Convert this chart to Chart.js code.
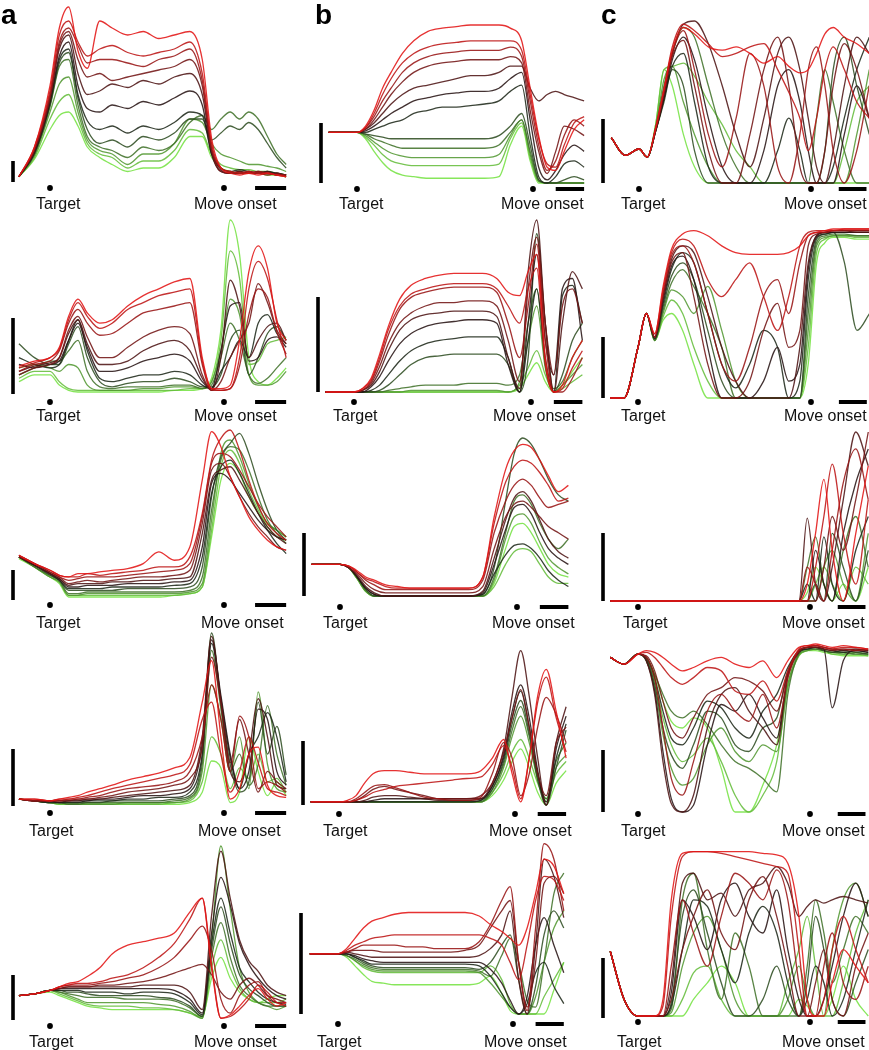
<!DOCTYPE html>
<html><head><meta charset="utf-8">
<script src="https://cdn.jsdelivr.net/npm/chart.js@4"></script>
<style>
html,body{margin:0;padding:0;background:#fff;}
#wrap{position:relative;width:869px;height:1050px;overflow:hidden;font-family:"Liberation Sans",Arial,sans-serif;}
#wrap canvas{position:absolute;}
.lab{position:absolute;font-size:16px;line-height:16px;color:#111;white-space:nowrap;}
.letter{position:absolute;font-size:28px;line-height:28px;font-weight:bold;color:#000;}
</style></head>
<body><div id="wrap"></div>
<script>
// ---- time grids (ms, target = 0) ----
const timesA = [-200,-100,0,60,120,180,240,320,400,500,600,700,800,900,980,1040,1100,1160,1220,1280,1340,1400,1460,1520];
const timesB = [-200,-100,0,60,120,180,240,320,400,500,600,700,800,900,1000,1080,1160,1220,1280,1340,1400,1460,1530,1600];
const timesC = [-200,-100,0,60,120,180,240,320,400,500,600,700,800,900,1000,1080,1160,1220,1280,1340,1400,1480,1570,1660];
const tickLabels = ["Target","Move onset"];
const panelLetters = ["a","b","c"];

// ---- series (12 conditions each, green -> black -> red), values in % of panel range ----
const a1 = [
[3,13,30,38,40,32,20,14,10,6,8,8,14,26,26,14,8,6,5,5,5,4,4,3],
[3,14,36,46,50,36,22,16,14,8,12,12,18,30,28,16,10,8,7,7,6,6,5,4],
[3,15,40,56,60,40,24,18,16,10,16,16,22,36,34,22,16,14,12,10,10,9,8,6],
[3,16,43,66,70,44,26,20,18,14,20,18,22,34,38,30,36,40,36,40,36,26,16,10],
[3,16,44,68,74,48,30,22,24,20,26,24,28,36,36,24,28,32,30,34,30,22,14,8],
[3,17,45,70,76,50,35,30,32,28,32,30,34,40,38,16,8,6,7,6,5,6,5,4],
[3,17,46,72,80,55,42,40,44,42,46,44,48,52,44,16,6,5,6,5,6,5,5,4],
[3,18,48,76,84,62,50,52,56,54,58,56,60,62,50,18,7,5,5,6,5,6,4,4],
[3,18,48,78,86,70,60,62,58,60,62,64,66,70,55,18,6,5,6,5,5,4,5,3],
[3,19,50,80,88,78,68,70,70,68,66,70,72,76,58,20,8,6,5,5,6,5,4,4],
[3,20,52,84,92,80,72,76,78,74,72,74,76,80,62,22,8,6,5,6,5,5,4,3],
[3,20,55,88,100,75,65,92,88,84,86,82,84,86,70,25,8,5,4,5,4,5,4,3]];
const a2 = [
[6,10,10,4,1,0,0,0,0,0,0,0,1,1,2,8,36,100,80,20,6,4,8,14],
[8,12,12,6,2,1,1,1,1,1,1,1,1,2,2,6,30,82,66,16,18,28,30,32],
[14,16,14,12,16,14,4,1,1,1,2,2,3,3,2,6,24,54,45,10,4,4,6,12],
[10,14,18,18,24,30,12,3,2,3,3,3,4,4,2,4,20,40,30,10,5,8,14,20],
[28,20,16,16,28,38,20,6,3,5,6,6,8,6,3,3,10,30,36,10,20,34,38,30],
[20,16,14,16,30,42,24,8,6,8,10,10,12,10,4,2,12,20,30,20,40,45,34,28],
[16,14,16,18,30,40,26,12,12,14,18,20,22,18,6,2,24,50,52,18,20,30,32,26],
[12,15,17,20,34,42,28,16,16,18,24,28,30,24,8,1,20,65,50,20,30,38,40,30],
[10,14,16,20,36,44,32,20,20,26,32,36,38,34,10,1,6,20,30,40,63,52,36,28],
[12,16,18,24,40,48,40,33,34,40,46,48,50,52,16,1,1,2,15,45,60,55,35,22],
[14,17,20,25,42,52,44,37,40,48,52,56,58,60,18,2,1,2,20,60,76,66,42,20],
[15,18,20,26,44,54,46,40,42,50,56,60,64,66,20,2,2,4,30,70,85,72,40,30]];
const a3 = [
[23,18,12,8,0,0,0,0,0,0,0,0,1,2,6,36,70,80,74,60,50,44,40,36],
[24,18,12,9,1,1,1,1,1,1,1,1,1,2,6,40,78,88,80,64,52,42,36,34],
[24,18,12,9,1,1,2,2,2,2,2,2,2,3,8,46,86,94,84,68,54,44,40,36],
[24,18,13,10,2,2,3,3,3,3,3,3,3,4,12,52,82,90,88,76,60,46,38,32],
[24,19,13,10,4,4,4,4,4,5,5,5,5,6,18,60,84,92,98,86,68,52,40,34],
[24,19,14,10,5,5,5,5,6,6,6,6,7,8,24,62,78,82,74,62,50,40,32,26],
[24,19,14,11,6,6,7,7,7,8,8,8,9,10,30,68,74,70,62,54,46,40,36,34],
[24,19,14,11,7,8,8,8,9,9,10,10,11,12,38,70,76,78,70,60,50,42,36,32],
[24,20,15,12,8,9,10,9,10,11,12,12,13,16,44,76,80,72,60,50,42,36,30,28],
[25,20,15,12,10,11,12,12,12,13,14,15,16,20,48,80,86,84,76,66,56,48,42,36],
[25,20,16,13,12,12,14,13,14,15,16,18,18,24,50,82,95,100,88,70,55,44,38,34],
[25,20,16,13,12,14,14,15,16,17,20,27,22,30,70,99,90,72,60,48,40,34,30,28]];
const a4 = [
[4,3,2,1,1,1,1,1,1,1,1,1,1,2,8,26,22,2,8,40,20,6,14,6],
[4,3,2,1,1,1,1,1,1,1,1,1,2,3,14,40,30,10,22,16,30,14,16,8],
[4,3,2,2,1,1,1,1,1,2,2,2,2,4,20,70,50,20,40,10,66,24,10,8],
[4,3,2,2,1,1,2,2,2,2,2,2,3,5,24,90,56,20,30,12,24,58,30,12],
[4,3,2,2,2,2,2,2,3,3,3,3,4,6,28,100,60,24,8,14,60,30,46,18],
[4,3,2,2,2,2,3,3,3,4,4,5,5,8,30,94,62,28,10,30,40,54,40,14],
[4,3,3,2,3,3,3,4,4,5,6,6,7,10,36,96,64,30,10,20,56,50,20,12],
[4,3,3,3,3,3,4,4,5,6,7,8,9,12,40,98,60,20,14,30,62,40,12,10],
[4,3,3,3,3,4,4,5,6,8,9,10,12,16,34,86,60,25,50,30,8,20,14,10],
[4,3,3,3,4,4,5,6,8,10,11,12,14,20,40,70,50,20,52,40,10,14,12,8],
[4,4,3,4,4,5,6,8,10,12,14,16,18,24,50,60,30,8,20,40,25,10,8,6],
[4,4,3,4,5,6,8,10,12,15,17,19,22,28,60,84,40,4,10,30,34,12,6,5]];
const a5 = [
[14,15,16,14,12,10,8,7,6,6,6,6,6,4,2,24,36,24,16,12,10,12,14,14],
[14,15,17,15,13,11,9,8,8,8,7,7,6,4,1,30,46,30,18,12,10,10,10,12],
[14,15,17,16,14,12,10,10,10,10,10,9,8,5,1,46,100,64,30,16,10,8,6,8],
[14,15,17,16,15,14,13,13,13,12,12,12,11,7,2,36,56,36,20,14,10,8,8,8],
[14,15,17,17,16,16,15,14,14,14,14,13,12,8,2,40,65,44,26,18,14,10,8,8],
[14,15,17,17,17,17,16,16,16,15,16,16,15,10,3,44,70,50,30,22,16,12,10,9],
[14,15,17,18,18,18,18,18,18,18,18,18,17,12,4,50,82,66,44,32,24,18,14,12],
[14,15,17,18,19,19,19,19,19,19,20,20,20,16,6,60,97,70,46,34,28,20,16,14],
[14,15,17,18,19,19,19,20,20,21,22,24,27,30,32,26,16,12,20,24,20,14,12,10],
[14,15,17,19,20,20,20,21,22,24,26,30,36,46,54,40,12,4,14,20,22,14,10,10],
[14,15,17,19,20,21,21,22,24,26,30,36,44,58,70,32,1,2,6,12,20,16,10,8],
[14,15,17,19,21,22,25,30,38,43,45,47,50,62,70,30,1,3,8,14,18,12,8,10]];
const b1 = [
[32,32,32,28,20,13,8,5,4,3,3,3,3,3,4,24,36,14,0,0,0,0,0,0],
[32,32,32,29,24,18,14,12,11,11,11,11,11,11,12,28,38,16,1,0,0,0,0,0],
[32,32,32,30,26,22,19,17,16,16,16,16,16,16,18,30,40,18,1,0,0,0,0,0],
[32,32,32,31,28,26,24,22,22,22,22,22,22,22,24,32,40,20,2,0,0,0,0,0],
[32,32,32,31,30,29,28,28,28,28,28,28,28,28,30,36,44,24,2,0,0,2,4,2],
[32,32,32,32,34,36,38,40,44,46,48,48,49,50,52,58,62,30,4,0,4,12,14,10],
[32,32,32,33,36,40,44,48,52,54,56,57,58,58,60,66,70,40,10,2,8,18,24,20],
[32,32,32,34,38,44,50,56,60,62,64,66,68,68,70,74,74,60,52,56,58,56,54,52],
[32,32,32,34,40,48,56,64,70,74,76,77,78,78,78,80,76,46,20,6,20,36,34,30],
[32,32,32,35,42,52,60,70,76,80,82,83,84,84,84,86,80,52,24,8,14,30,40,36],
[32,32,32,35,44,56,66,76,82,86,88,89,90,90,90,90,84,56,28,12,10,24,38,42],
[32,32,32,36,46,60,70,82,90,96,98,99,100,100,100,98,90,60,30,10,8,20,34,40]];
const b2 = [
[0,0,0,0,0,0,0,0,0,0,0,0,0,0,0,0,2,10,17,6,0,4,12,20],
[0,0,0,0,0,0,0,0,0,0,0,0,0,0,0,0,4,14,24,10,0,2,6,10],
[0,0,0,0,0,0,0,0,1,1,1,1,1,1,1,0,6,30,50,14,0,4,10,16],
[0,0,0,0,0,0,1,2,3,4,4,4,5,5,5,4,10,40,60,16,2,6,20,30],
[0,0,0,0,0,1,4,10,16,20,21,22,22,22,22,16,0,20,92,40,0,10,30,40],
[0,0,0,0,1,4,10,18,24,28,30,31,32,32,32,20,0,30,60,20,0,56,62,40],
[0,0,0,0,3,9,18,28,34,38,40,41,42,42,40,16,0,40,80,30,10,60,66,30],
[0,0,0,1,4,12,24,36,42,45,46,47,47,47,44,20,2,70,100,40,0,40,70,60],
[0,0,0,1,5,15,28,40,46,50,52,52,53,53,50,30,6,60,90,40,10,50,60,40],
[0,0,0,1,6,18,33,48,55,58,60,61,61,61,58,40,20,50,86,30,0,0,8,20],
[0,0,0,2,7,20,36,50,57,60,62,63,63,63,60,50,40,60,72,16,0,2,14,24],
[0,0,0,2,8,22,38,54,62,66,68,69,69,69,66,58,56,70,80,20,0,4,20,30]];
const b3 = [
[20,20,20,18,11,3,0,0,0,0,0,0,0,0,0,8,30,44,46,40,30,20,14,12],
[20,20,20,18,11,3,0,0,0,0,0,0,0,0,0,6,20,28,30,28,20,12,8,8],
[20,20,20,18,11,3,0,0,0,0,0,0,0,0,0,10,36,50,52,46,34,24,18,14],
[20,20,20,18,12,4,0,0,0,0,0,0,0,0,0,12,40,60,64,58,46,36,30,36],
[20,20,20,18,12,4,0,0,0,0,0,0,0,0,1,18,60,90,100,96,86,74,64,60],
[20,20,20,18,12,5,1,0,0,0,0,0,0,0,1,14,26,32,33,30,24,16,10,6],
[20,20,20,18,12,5,1,0,0,0,0,0,0,0,2,20,42,56,58,52,40,30,24,20],
[20,20,20,18,13,6,2,0,0,0,0,0,0,0,3,24,48,62,66,60,48,36,28,24],
[20,20,20,18,14,8,4,2,2,2,2,2,2,2,6,30,50,58,60,56,50,44,40,36],
[20,20,20,19,15,10,7,4,4,4,4,4,4,4,10,40,60,70,74,70,62,56,58,60],
[20,20,20,19,15,11,9,6,5,5,5,5,5,5,12,46,72,82,86,84,78,70,60,62],
[20,20,20,19,16,12,10,7,6,5,5,5,5,5,12,50,80,92,96,94,86,76,66,70]];
const b4 = [
[2,2,2,2,2,2,2,2,2,2,2,2,2,2,2,6,16,28,36,24,8,0,14,22],
[2,2,2,2,2,2,2,2,2,2,2,2,2,2,2,8,20,34,42,30,14,4,20,28],
[2,2,2,2,2,2,2,2,2,2,2,2,2,2,2,8,24,44,57,40,16,2,24,32],
[2,2,2,2,2,2,2,2,2,2,2,2,2,2,2,10,26,48,63,44,18,4,28,40],
[2,2,2,2,2,2,2,2,2,2,2,2,2,2,3,10,28,52,67,46,16,0,24,48],
[2,2,2,2,2,2,2,2,2,2,2,2,2,2,3,12,30,56,73,50,20,2,30,52],
[2,2,2,2,2,2,3,4,4,4,4,4,4,4,4,12,32,60,77,56,22,0,36,57],
[2,2,2,2,2,3,5,6,6,5,4,3,3,3,4,14,36,70,99,70,30,0,40,63],
[2,2,2,2,3,6,10,12,10,8,6,4,4,4,6,14,34,56,74,50,20,6,40,50],
[2,2,2,2,4,8,12,13,11,8,5,4,3,3,5,20,40,30,6,20,50,69,58,40],
[2,2,2,2,3,5,8,10,12,13,14,15,16,17,18,26,38,24,4,30,66,82,56,34],
[2,2,2,3,6,14,20,22,22,21,20,20,20,20,22,30,42,20,2,30,70,87,60,30]];
const b5 = [
[35,35,35,33,28,23,19,18,17,17,17,17,17,17,18,22,12,2,0,0,0,0,14,30],
[35,35,35,34,31,27,25,24,24,24,24,24,24,24,24,28,20,6,0,0,0,10,20,30],
[35,35,35,34,31,28,26,25,25,25,25,25,25,25,24,18,10,4,0,0,10,30,50,60],
[35,35,35,34,32,29,27,26,26,26,26,26,26,26,25,22,34,44,30,8,4,30,70,82],
[35,35,35,35,33,30,28,27,27,27,27,27,27,27,26,30,40,46,20,0,16,46,60,50],
[35,35,35,35,33,31,29,29,29,29,29,29,29,29,28,22,12,4,0,6,24,30,16,6],
[35,35,35,35,34,32,31,30,30,30,30,30,30,30,30,26,18,8,0,10,40,56,40,24],
[35,35,35,36,35,34,33,33,33,33,33,33,33,33,34,38,46,60,20,0,40,90,80,56],
[35,35,35,36,37,37,37,36,36,36,36,36,36,37,40,50,60,66,30,4,30,76,80,70],
[35,35,35,36,38,40,40,40,40,39,39,38,38,38,42,52,66,74,30,2,50,99,90,60],
[35,35,35,37,40,42,44,45,46,46,46,46,46,46,46,44,40,30,20,40,66,80,78,66],
[35,35,35,38,44,50,54,56,58,59,59,59,59,59,57,52,48,44,40,50,70,90,86,70]];
const c1 = [
[28,17,21,16,36,70,60,30,10,0,0,0,0,0,0,0,0,0,0,0,0,0,0,0],
[28,17,21,16,36,70,72,74,66,50,36,20,10,0,0,0,0,0,0,0,0,20,50,60],
[28,17,21,16,34,64,72,50,30,10,0,0,0,0,0,0,0,0,0,0,0,0,30,70],
[28,17,21,16,34,60,80,96,90,60,30,10,0,0,0,0,0,0,40,70,50,20,0,0],
[28,17,21,16,32,50,70,60,20,0,0,0,0,0,0,0,0,0,0,20,70,90,60,30],
[28,17,21,16,32,52,72,80,50,10,0,0,0,0,20,40,20,0,0,0,10,40,70,90],
[28,17,21,16,32,52,76,90,76,40,10,0,0,20,60,70,50,20,0,0,0,30,60,40],
[28,17,21,16,32,54,80,98,100,86,60,30,10,40,80,90,70,40,10,0,20,60,90,80],
[28,17,21,16,33,55,78,88,60,20,0,0,30,70,90,60,10,0,0,20,60,86,70,40],
[28,17,21,16,33,56,80,94,70,30,10,40,80,60,10,0,30,70,84,60,20,0,20,60],
[28,17,21,16,34,58,84,98,94,86,78,80,84,86,70,56,40,20,40,70,84,70,50,40],
[28,17,21,16,34,58,82,96,92,84,82,84,80,74,78,72,68,70,80,92,96,90,86,80]];
const c2 = [
[0,0,30,50,34,46,50,40,20,0,0,0,0,0,0,0,0,20,80,92,95,95,94,94],
[0,0,30,50,34,48,58,50,30,10,0,0,0,0,0,0,0,30,86,94,96,96,95,95],
[0,0,30,50,34,50,64,60,50,66,40,10,0,0,0,0,0,40,90,95,96,96,96,96],
[0,0,30,50,34,52,68,76,66,50,30,0,0,0,0,0,0,50,92,96,97,97,96,96],
[0,0,30,50,35,54,72,80,70,40,10,0,0,0,0,0,0,60,94,97,98,80,40,50],
[0,0,30,50,35,56,76,86,80,50,20,6,20,40,30,0,10,70,95,97,98,98,98,98],
[0,0,30,50,36,58,78,84,70,30,0,0,0,10,30,10,20,76,96,98,98,98,98,98],
[0,0,30,50,36,60,82,90,86,60,30,10,0,0,0,0,30,80,96,98,99,99,98,98],
[0,0,30,50,36,60,80,86,60,20,0,0,10,40,56,30,40,90,97,98,99,99,99,99],
[0,0,30,50,36,62,84,90,80,50,20,10,30,60,70,50,80,96,98,98,99,99,99,99],
[0,0,30,50,38,64,86,94,90,70,60,70,80,60,40,60,90,98,99,99,99,100,100,100],
[0,0,30,50,38,66,88,97,99,96,90,86,85,85,85,86,90,96,98,99,100,100,100,100]];
const c3 = [
[0,0,0,0,0,0,0,0,0,0,0,0,0,0,0,0,0,5,20,10,0,10,0,20],
[0,0,0,0,0,0,0,0,0,0,0,0,0,0,0,0,0,0,10,20,10,0,20,10],
[0,0,0,0,0,0,0,0,0,0,0,0,0,0,0,0,0,0,0,20,30,10,0,40],
[0,0,0,0,0,0,0,0,0,0,0,0,0,0,0,0,0,20,38,10,0,30,50,20],
[0,0,0,0,0,0,0,0,0,0,0,0,0,0,0,0,0,0,10,0,40,20,0,30],
[0,0,0,0,0,0,0,0,0,0,0,0,0,0,0,0,0,10,0,38,10,0,30,50],
[0,0,0,0,0,0,0,0,0,0,0,0,0,0,0,0,0,0,30,10,0,40,70,90],
[0,0,0,0,0,0,0,0,0,0,0,0,0,0,0,0,0,49,10,0,20,60,100,80],
[0,0,0,0,0,0,0,0,0,0,0,0,0,0,0,0,0,0,0,20,50,30,60,100],
[0,0,0,0,0,0,0,0,0,0,0,0,0,0,0,0,0,20,10,0,30,70,90,60],
[0,0,0,0,0,0,0,0,0,0,0,0,0,0,0,0,0,0,20,50,81,40,10,60],
[0,0,0,0,0,0,0,0,0,0,0,0,0,0,0,0,0,10,40,72,30,0,40,80]];
const c4 = [
[92,88,94,92,82,66,54,50,56,50,26,0,0,16,40,76,93,96,96,95,94,93,93,93],
[92,88,94,91,78,56,40,30,34,44,30,10,0,10,30,74,93,96,97,96,94,94,94,93],
[92,88,94,90,74,46,26,16,20,40,50,36,30,40,36,76,94,96,97,96,95,94,95,94],
[92,88,94,92,82,70,60,56,60,52,40,30,26,20,12,70,94,97,97,96,95,95,94,94],
[92,88,94,91,76,50,34,26,40,60,56,40,36,50,56,84,95,97,98,96,95,96,95,94],
[92,88,94,92,80,60,44,40,50,66,62,50,44,60,70,86,96,97,98,97,96,95,96,95],
[92,88,94,90,72,36,8,0,4,40,64,60,70,56,44,82,96,98,98,97,62,90,96,95],
[92,88,94,90,70,30,5,0,10,50,70,74,60,50,40,80,95,98,99,98,97,96,97,96],
[92,88,94,93,84,66,50,44,56,70,74,80,78,72,60,82,96,98,98,97,96,97,97,96],
[92,88,94,92,80,50,20,10,30,60,70,60,54,70,50,80,96,98,99,98,97,97,96,97],
[92,88,94,95,92,86,80,76,80,86,84,72,70,78,66,84,97,99,99,98,97,98,98,97],
[92,88,94,96,95,92,88,84,86,90,92,88,86,90,80,90,98,99,100,99,98,99,98,97]];
const c5 = [
[39,10,0,0,0,0,0,0,10,20,30,20,0,0,0,0,10,6,0,0,10,30,10,0],
[39,10,0,0,0,0,0,10,26,30,10,0,0,0,0,20,40,60,30,0,0,20,50,70],
[39,10,0,0,0,0,2,30,50,60,40,10,0,0,0,10,30,10,0,0,40,70,80,60],
[39,10,0,0,0,0,4,70,86,40,10,50,30,0,0,0,0,30,70,50,20,40,60,50],
[39,10,0,0,0,0,8,60,76,50,20,0,0,10,30,10,0,20,60,40,10,0,20,40],
[39,10,0,0,0,0,6,40,70,66,40,20,50,66,50,20,0,10,30,20,0,10,40,70],
[39,10,0,0,0,0,14,70,60,40,70,80,60,50,76,40,10,0,0,10,30,60,80,60],
[39,10,0,0,0,0,20,80,86,70,74,60,76,80,90,80,60,66,70,68,70,72,70,68],
[39,10,0,0,0,0,10,40,60,76,50,40,70,84,60,30,0,0,20,40,10,0,30,50],
[39,10,0,0,0,0,30,70,50,30,60,86,80,70,88,70,20,0,0,30,50,20,10,30],
[39,10,0,0,0,6,60,96,99,99,98,96,94,92,90,86,40,0,0,10,40,60,40,20],
[39,10,0,0,0,10,70,98,99,99,99,99,99,98,97,92,60,10,0,0,20,40,30,20]];

// ---- layout (page pixels) ----
const COLS = [
  {times: timesA, move: 1120, hbar: [1320,1520], left: 0,   width: 295, letterLeft: 1},
  {times: timesB, move: 1240, hbar: [1400,1600], left: 295, width: 300, letterLeft: 315},
  {times: timesC, move: 1240, hbar: [1440,1640], left: 595, width: 274, letterLeft: 601}
];
const ROW_H = 210;
const LABEL_BASE = [209, 421, 628, 836, 1047];
const PANELS = [
  {col:0,row:0,data:a1,xT:50,xM:224,yTop:7,yB:182,vx:13,vTop:161,vBot:182,dotY:188,tl:36,ml:194},
  {col:0,row:1,data:a2,xT:50,xM:224,yTop:220,yB:392,vx:13,vTop:318,vBot:394,dotY:402,tl:36,ml:194},
  {col:0,row:2,data:a3,xT:50,xM:224,yTop:430,yB:597,vx:13,vTop:570,vBot:600,dotY:605,tl:36,ml:201},
  {col:0,row:3,data:a4,xT:50,xM:224,yTop:633,yB:806,vx:13,vTop:749,vBot:806,dotY:813,tl:29,ml:198},
  {col:0,row:4,data:a5,xT:50,xM:224,yTop:846,yB:1020,vx:13,vTop:975,vBot:1020,dotY:1026,tl:29,ml:194},
  {col:1,row:0,data:b1,xT:357,xM:533,yTop:25,yB:183,vx:321,vTop:123,vBot:183,dotY:189,tl:339,ml:501},
  {col:1,row:1,data:b2,xT:354,xM:531,yTop:220,yB:392,vx:318,vTop:297,vBot:392,dotY:402,tl:333,ml:493},
  {col:1,row:2,data:b3,xT:340,xM:517,yTop:438,yB:596,vx:304,vTop:533,vBot:596,dotY:607,tl:323,ml:492},
  {col:1,row:3,data:b4,xT:339,xM:515,yTop:649,yB:805,vx:303,vTop:741,vBot:805,dotY:814,tl:323,ml:489},
  {col:1,row:4,data:b5,xT:338,xM:513,yTop:842,yB:1014,vx:301,vTop:913,vBot:1014,dotY:1024,tl:317,ml:484},
  {col:2,row:0,data:c1,xT:639,xM:811,yTop:21,yB:183,vx:603,vTop:119,vBot:183,dotY:189,tl:621,ml:784},
  {col:2,row:1,data:c2,xT:638,xM:811,yTop:229,yB:398,vx:603,vTop:337,vBot:398,dotY:402,tl:621,ml:784},
  {col:2,row:2,data:c3,xT:638,xM:810,yTop:432,yB:601,vx:603,vTop:533,vBot:601,dotY:607,tl:623,ml:782},
  {col:2,row:3,data:c4,xT:638,xM:810,yTop:644,yB:812,vx:603,vTop:750,vBot:812,dotY:814,tl:621,ml:782},
  {col:2,row:4,data:c5,xT:638,xM:810,yTop:850,yB:1016,vx:603,vTop:958,vBot:1018,dotY:1022,tl:617,ml:782}
];

function lineColor(i, n){
  const t = i/(n-1);
  const g=[118,226,68], k=[22,22,22], r=[226,22,22];
  let c;
  if (t < 0.5){ const u=t/0.5; c=g.map((v,j)=>v+(k[j]-v)*u); }
  else { const u=(t-0.5)/0.5; c=k.map((v,j)=>v+(r[j]-v)*u); }
  return 'rgba(' + c.map(Math.round).join(',') + ',0.88)';
}

const wrap = document.getElementById('wrap');

function addDiv(cls, text, left, top){
  const d = document.createElement('div');
  d.className = cls; d.textContent = text;
  d.style.left = left + 'px'; d.style.top = top + 'px';
  wrap.appendChild(d);
}

PANELS.forEach(p => {
  const col = COLS[p.col];
  const left = col.left, w = col.width, top = p.row*ROW_H, h = ROW_H;
  const cv = document.createElement('canvas');
  cv.width = w; cv.height = h;
  cv.style.left = left+'px'; cv.style.top = top+'px';
  cv.style.width = w+'px'; cv.style.height = h+'px';
  wrap.appendChild(cv);
  const kx = (p.xM - p.xT)/col.move;
  const ky = (p.yB - p.yTop)/100;
  const n = p.data.length;
  const datasets = p.data.map((vals, i) => ({
    data: vals.map((v, j) => ({x: col.times[j], y: v})),
    borderColor: lineColor(i, n),
    borderWidth: 1.3,
    pointRadius: 0,
    fill: false,
    order: n - 1 - i,
    cubicInterpolationMode: 'monotone'
  }));
  const marks = {
    id: 'marks',
    afterDatasetsDraw(chart){
      const ctx = chart.ctx, xs = chart.scales.x;
      ctx.save();
      ctx.fillStyle = '#000';
      ctx.fillRect(p.vx - 1.8 - left, p.vTop - top, 3.6, p.vBot - p.vTop);
      [0, col.move].forEach(t => {
        ctx.beginPath();
        ctx.arc(xs.getPixelForValue(t), p.dotY - top, 2.9, 0, Math.PI*2);
        ctx.fill();
      });
      const x0 = xs.getPixelForValue(col.hbar[0]), x1 = xs.getPixelForValue(col.hbar[1]);
      ctx.fillRect(x0, p.dotY - top - 2, x1 - x0, 4);
      ctx.restore();
    }
  };
  new Chart(cv, {
    type: 'line',
    data: {datasets},
    options: {
      responsive: false, animation: false, devicePixelRatio: 1, events: [],
      layout: {padding: 0},
      plugins: {legend: {display: false}, tooltip: {enabled: false}},
      scales: {
        x: {type: 'linear', display: false, bounds: 'data',
            min: (left - p.xT)/kx, max: (left + w - p.xT)/kx},
        y: {type: 'linear', display: false, bounds: 'data',
            min: -(top + h - p.yB)/ky, max: (p.yB - top)/ky}
      }
    },
    plugins: [marks]
  });
  const lt = LABEL_BASE[p.row] - 13.5;
  addDiv('lab', tickLabels[0], p.tl, lt);
  addDiv('lab', tickLabels[1], p.ml, lt);
});

COLS.forEach((c, i) => addDiv('letter', panelLetters[i], c.letterLeft, 1));
</script>
</body></html>
